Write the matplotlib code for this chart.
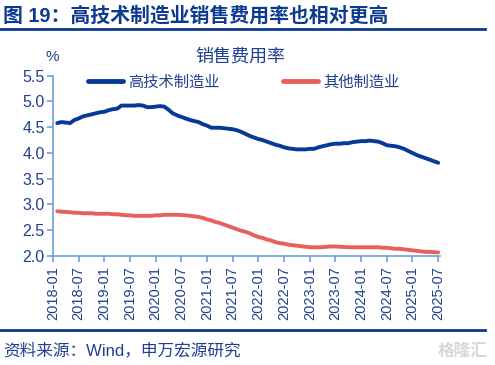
import matplotlib
matplotlib.use("Agg")
import matplotlib.pyplot as plt
from matplotlib.lines import Line2D

plt.rcParams["font.family"] = ["Liberation Sans", "Noto Sans CJK SC", "DejaVu Sans"]

# month index 0 = 2018-01; data run 2018-02 .. 2025-07
months = list(range(1, 91))
high_tech = [
    4.58, 4.60, 4.59, 4.58, 4.64, 4.67, 4.71, 4.73, 4.75, 4.77,
    4.79, 4.80, 4.83, 4.85, 4.86, 4.92, 4.92, 4.92, 4.92, 4.93,
    4.92, 4.89, 4.89, 4.90, 4.91, 4.90, 4.84, 4.77, 4.73, 4.70,
    4.67, 4.64, 4.62, 4.60, 4.56, 4.53, 4.49, 4.49, 4.49, 4.48,
    4.47, 4.46, 4.44, 4.41, 4.37, 4.33, 4.30, 4.27, 4.25, 4.22,
    4.19, 4.16, 4.14, 4.11, 4.09, 4.08, 4.07, 4.07, 4.07, 4.08,
    4.08, 4.11, 4.13, 4.15, 4.17, 4.18, 4.18, 4.19, 4.19, 4.21,
    4.22, 4.23, 4.23, 4.24, 4.23, 4.22, 4.19, 4.15, 4.14, 4.13,
    4.11, 4.08, 4.04, 4.00, 3.96, 3.93, 3.90, 3.87, 3.84, 3.81,
]
other = [
    2.87, 2.86, 2.855, 2.85, 2.84, 2.84, 2.83, 2.83, 2.83, 2.82,
    2.82, 2.82, 2.82, 2.81, 2.81, 2.80, 2.79, 2.79, 2.78, 2.78,
    2.78, 2.78, 2.78, 2.79, 2.79, 2.80, 2.80, 2.80, 2.80, 2.795,
    2.79, 2.78, 2.77, 2.76, 2.74, 2.71, 2.69, 2.66, 2.64, 2.61,
    2.58, 2.55, 2.52, 2.49, 2.47, 2.44, 2.40, 2.37, 2.35, 2.32,
    2.30, 2.27, 2.25, 2.24, 2.22, 2.21, 2.20, 2.19, 2.18, 2.17,
    2.17, 2.17, 2.17, 2.18, 2.185, 2.185, 2.18, 2.175, 2.17, 2.17,
    2.17, 2.17, 2.17, 2.17, 2.17, 2.17, 2.16, 2.16, 2.15, 2.14,
    2.14, 2.13, 2.12, 2.11, 2.10, 2.09, 2.08, 2.08, 2.075, 2.07,
]
tick_pos = list(range(0, 91, 6))
tick_labels = [f"{2018 + p // 12}-{p % 12 + 1:02d}" for p in tick_pos]

navy = "#0b3a8f"
text_blue = "#1f3f8f"
axis_blue = "#6fa0d8"
blue_line = "#063a99"
red_line = "#e8605e"

fig = plt.figure(figsize=(4.95, 3.65), dpi=100)
ax = fig.add_axes([0.107, 0.2986, 0.7825, 0.494])

ax.plot(months, high_tech, color=blue_line, linewidth=2.8, solid_capstyle="round")
ax.plot(months, other, color=red_line, linewidth=2.8, solid_capstyle="round")

ax.set_xlim(0, 90.5)
ax.set_ylim(2.0, 5.5)
ax.set_yticks([2.0, 2.5, 3.0, 3.5, 4.0, 4.5, 5.0, 5.5])
ax.set_yticklabels([f"{v:.1f}" for v in ax.get_yticks()])
ax.set_xticks(tick_pos)
ax.set_xticklabels(tick_labels, rotation=90)

for side in ("top", "right"):
    ax.spines[side].set_visible(False)
for side in ("left", "bottom"):
    ax.spines[side].set_color(axis_blue)
    ax.spines[side].set_linewidth(1.2)
ax.tick_params(axis="both", colors=axis_blue, length=4, width=1.2, direction="out")
ax.tick_params(axis="y", labelcolor=text_blue, labelsize=11.5, pad=2)
ax.tick_params(axis="x", labelcolor=text_blue, labelsize=10.5, pad=3)

handles = [
    Line2D([], [], color=blue_line, linewidth=3.5, solid_capstyle="round"),
    Line2D([], [], color=red_line, linewidth=3.5, solid_capstyle="round"),
]
leg = ax.legend(handles, ["高技术制造业", "其他制造业"], loc="upper left",
                bbox_to_anchor=(0.055, 1.08), ncol=2, frameon=False,
                fontsize=11, handlelength=2.3, handletextpad=0.35,
                columnspacing=4.1)
for t in leg.get_texts():
    t.set_color(text_blue)

# header / footer
fig.text(0.006, 0.958, "图 19：高技术制造业销售费用率也相对更高", fontsize=14.3,
         fontweight="bold", color=navy, va="center", ha="left")
fig.add_artist(Line2D([0.0, 0.98], [0.921, 0.921], color=navy, linewidth=2))
fig.text(0.485, 0.844, "销售费用率", fontsize=13, color=text_blue,
         ha="center", va="center")
fig.text(0.105, 0.844, "%", fontsize=11, color=text_blue, ha="center", va="center")
fig.add_artist(Line2D([0.0, 0.98], [0.096, 0.096], color=navy, linewidth=2))
fig.text(0.006, 0.04, "资料来源：Wind，申万宏源研究", fontsize=12,
         color=text_blue, ha="left", va="center")
fig.text(0.985, 0.04, "格隆汇", fontsize=12, color="#d8d8d8",
         ha="right", va="center", fontweight="bold")

fig.savefig("out.png", dpi=100)
plt.close(fig)
